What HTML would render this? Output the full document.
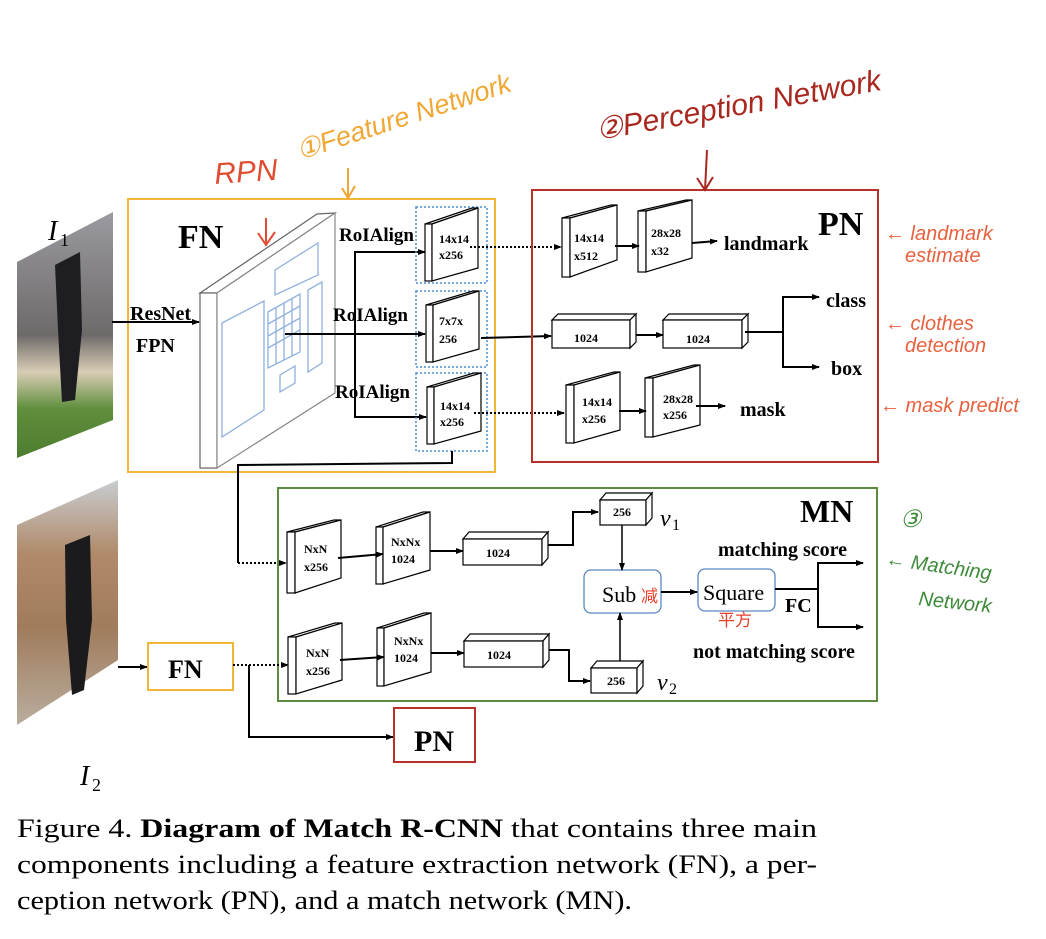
<!DOCTYPE html>
<html><head><meta charset="utf-8"><style>
body{margin:0;background:#fff;}
svg{display:block;}
.b{font-family:"Liberation Serif",serif;font-weight:bold;fill:#000;}
.h{font-family:"Liberation Sans",sans-serif;font-style:italic;}
</style></head><body>
<svg width="1046" height="939" viewBox="0 0 1046 939" xmlns="http://www.w3.org/2000/svg">
<defs>
<marker id="a" markerWidth="8" markerHeight="8" refX="7" refY="4" orient="auto" markerUnits="userSpaceOnUse"><path d="M0,1 L8,4 L0,7z" fill="#000"/></marker>
<linearGradient id="p1" x1="0" y1="0" x2="0" y2="1"><stop offset="0" stop-color="#9a9aa0"/><stop offset="0.5" stop-color="#6e6a6a"/><stop offset="0.65" stop-color="#d8cdb4"/><stop offset="0.8" stop-color="#5f8f3c"/><stop offset="1" stop-color="#4d7d2f"/></linearGradient>
<linearGradient id="p2" x1="0" y1="0" x2="0" y2="1"><stop offset="0" stop-color="#c8cdd0"/><stop offset="0.3" stop-color="#b08a6a"/><stop offset="0.6" stop-color="#a07b5c"/><stop offset="1" stop-color="#b9ad9d"/></linearGradient>
</defs>

<polygon points="17,262 113,212 113,420 17,458" fill="url(#p1)"/>
<path d="M55,265 L80,252 L82,330 L75,400 L62,402 L58,330z" fill="#1d1d22"/>
<polygon points="17,525 118,480 118,660 17,725" fill="url(#p2)"/>
<path d="M65,545 L90,535 L92,620 L84,690 L72,695 L66,620z" fill="#1b1b1e"/>
<text x="48" y="240" font-family="Liberation Serif,serif" font-style="italic" font-size="28">I</text><text x="60" y="246" font-family="Liberation Serif,serif" font-size="18">1</text>
<text x="80" y="785" font-family="Liberation Serif,serif" font-style="italic" font-size="28">I</text><text x="92" y="791" font-family="Liberation Serif,serif" font-size="18">2</text>

<rect x="128" y="199" width="367" height="273" fill="none" stroke="#f2b636" stroke-width="2"/>
<text x="178" y="248" class="b" font-size="34">FN</text>
<line x1="112" y1="322" x2="199" y2="322" stroke="#000" stroke-width="2" marker-end="url(#a)"/>
<text x="130" y="320" class="b" font-size="20">ResNet</text>
<text x="136" y="352" class="b" font-size="20">FPN</text>
<polygon points="200,293 317,214 335,213 217,293" fill="#fff" stroke="#666" stroke-width="1.2"/>
<rect x="200" y="293" width="17" height="175" fill="#fff" stroke="#666" stroke-width="1.2"/>
<polygon points="217,293 335,213 335,393 217,468" fill="#fff" stroke="#888" stroke-width="1.2"/>
<g fill="none" stroke="#8fb1dd" stroke-width="1.3">
<polygon points="222,323 264,301 264,410 222,437"/>
<polygon points="275,270 318,243 318,275 275,295"/>
<polygon points="308,290 322,282 322,363 308,372"/>
<polygon points="280,375 295,366 295,383 280,392"/>
<polygon points="268,312 300,294 300,352 268,368"/>
<path d="M276,307 V364 M284,303 V360 M292,298 V356 M268,324 L300,306 M268,336 L300,318 M268,348 L300,330"/>
</g>
<text x="339" y="241" class="b" font-size="19">RoIAlign</text>
<text x="333" y="321" class="b" font-size="19">RoIAlign</text>
<text x="335" y="398" class="b" font-size="19">RoIAlign</text>
<polyline points="424,252 355,252 355,417 424,417" fill="none" stroke="#000" stroke-width="2"/>
<line x1="415" y1="252" x2="425" y2="252" stroke="#000" stroke-width="2" marker-end="url(#a)"/>
<line x1="415" y1="417" x2="426" y2="417" stroke="#000" stroke-width="2" marker-end="url(#a)"/>
<line x1="285" y1="334" x2="425" y2="334" stroke="#000" stroke-width="2" marker-end="url(#a)"/>
<g fill="none" stroke="#4a8ed6" stroke-width="1.5" stroke-dasharray="2,2">
<rect x="416" y="207" width="71" height="76"/><rect x="416" y="291" width="71" height="76"/><rect x="416" y="373" width="71" height="78"/>
</g>
<g stroke="#000" stroke-width="1.2" fill="#fff">
<polygon points="425,224 472,208 478,208 432,224"/><rect x="425" y="224" width="7" height="57"/><polygon points="432,224 478,208 478,268 432,281"/>
<polygon points="426,305 473,291 479,291 433,305"/><rect x="426" y="305" width="7" height="57"/><polygon points="433,305 479,291 479,349 433,362"/>
<polygon points="427,387 474,373 481,373 434,387"/><rect x="427" y="387" width="7" height="57"/><polygon points="434,387 481,373 481,431 434,444"/>
</g>
<g class="b" font-size="12"><text x="439" y="243">14x14</text><text x="439" y="259">x256</text>
<text x="439" y="325">7x7x</text><text x="439" y="343">256</text>
<text x="440" y="410">14x14</text><text x="440" y="426">x256</text></g>
<line x1="470" y1="247" x2="561" y2="247" stroke="#000" stroke-width="2" stroke-dasharray="2,2" marker-end="url(#a)"/>
<line x1="481" y1="338" x2="551" y2="336" stroke="#000" stroke-width="2" marker-end="url(#a)"/>
<line x1="474" y1="413" x2="564" y2="413" stroke="#000" stroke-width="2" stroke-dasharray="2,2" marker-end="url(#a)"/>
<polyline points="452,451 452,463 238,465 238,563" fill="none" stroke="#000" stroke-width="2"/>
<line x1="238" y1="563" x2="286" y2="563" stroke="#000" stroke-width="2" stroke-dasharray="2,2" marker-end="url(#a)"/>

<rect x="532" y="190" width="346" height="272" fill="none" stroke="#b8312a" stroke-width="2"/>
<text x="818" y="235" class="b" font-size="34">PN</text>
<g stroke="#000" stroke-width="1.2" fill="#fff">
<polygon points="562,218 611,205 617,205 570,218"/><rect x="562" y="218" width="8" height="59"/><polygon points="570,218 617,205 617,260 570,277"/>
<polygon points="638,211 686,200 692,200 646,211"/><rect x="638" y="211" width="8" height="61"/><polygon points="646,211 692,200 692,258 646,272"/>
<polygon points="566,385 614,372 620,372 574,385"/><rect x="566" y="385" width="8" height="58"/><polygon points="574,385 620,372 620,430 574,443"/>
<polygon points="645,378 694,365 700,365 653,378"/><rect x="645" y="378" width="8" height="59"/><polygon points="653,378 700,365 700,425 653,437"/>
<polygon points="552,320 558,314 636,314 630,320"/><rect x="552" y="320" width="78" height="28"/><polygon points="630,320 636,314 636,342 630,348"/>
<polygon points="663,320 669,314 748,314 742,320"/><rect x="663" y="320" width="79" height="28"/><polygon points="742,320 748,314 748,342 742,348"/>
</g>
<g class="b" font-size="12"><text x="574" y="242">14x14</text><text x="574" y="260">x512</text>
<text x="651" y="237">28x28</text><text x="651" y="255">x32</text>
<text x="582" y="406">14x14</text><text x="582" y="423">x256</text>
<text x="663" y="403">28x28</text><text x="663" y="419">x256</text>
<text x="574" y="342">1024</text><text x="686" y="343">1024</text></g>
<line x1="615" y1="246" x2="639" y2="246" stroke="#000" stroke-width="2" marker-end="url(#a)"/>
<line x1="692" y1="243" x2="717" y2="241" stroke="#000" stroke-width="2" marker-end="url(#a)"/>
<line x1="636" y1="335" x2="663" y2="335" stroke="#000" stroke-width="2" marker-end="url(#a)"/>
<line x1="619" y1="411" x2="646" y2="411" stroke="#000" stroke-width="2" marker-end="url(#a)"/>
<line x1="696" y1="406" x2="725" y2="406" stroke="#000" stroke-width="2" marker-end="url(#a)"/>
<polyline points="745,332 783,332" fill="none" stroke="#000" stroke-width="2"/>
<polyline points="818,297 783,297 783,367 818,367" fill="none" stroke="#000" stroke-width="2"/>
<line x1="810" y1="297" x2="819" y2="297" stroke="#000" stroke-width="2" marker-end="url(#a)"/>
<line x1="810" y1="367" x2="819" y2="367" stroke="#000" stroke-width="2" marker-end="url(#a)"/>
<text x="724" y="250" class="b" font-size="20">landmark</text>
<text x="826" y="307" class="b" font-size="20">class</text>
<text x="831" y="375" class="b" font-size="20">box</text>
<text x="740" y="416" class="b" font-size="20">mask</text>

<rect x="278" y="488" width="599" height="213" fill="none" stroke="#5c8a3e" stroke-width="2"/>
<text x="800" y="522" class="b" font-size="32">MN</text>
<g stroke="#000" stroke-width="1.2" fill="#fff">
<polygon points="287,532 334,520 341,520 295,532"/><rect x="287" y="532" width="8" height="61"/><polygon points="295,532 341,520 341,578 295,593"/>
<polygon points="376,527 423,512 430,512 383,527"/><rect x="376" y="527" width="7" height="57"/><polygon points="383,527 430,512 430,570 383,584"/>
<polygon points="288,637 335,623 342,623 296,637"/><rect x="288" y="637" width="8" height="57"/><polygon points="296,637 342,623 342,680 296,694"/>
<polygon points="377,628 424,613 431,613 384,628"/><rect x="377" y="628" width="7" height="58"/><polygon points="384,628 431,613 431,672 384,686"/>
<polygon points="463,539 469,532 548,532 542,539"/><rect x="463" y="539" width="79" height="26"/><polygon points="542,539 548,532 548,558 542,565"/>
<polygon points="464,641 470,634 549,634 543,641"/><rect x="464" y="641" width="79" height="26"/><polygon points="543,641 549,634 549,660 543,667"/>
<polygon points="600,500 606,493 652,493 646,500"/><rect x="600" y="500" width="46" height="25"/><polygon points="646,500 652,493 652,518 646,525"/>
<polygon points="591,668 597,661 643,661 637,668"/><rect x="591" y="668" width="46" height="25"/><polygon points="637,668 643,661 643,686 637,693"/>
</g>
<g class="b" font-size="12"><text x="304" y="553">NxN</text><text x="304" y="571">x256</text>
<text x="391" y="546">NxNx</text><text x="391" y="563">1024</text>
<text x="306" y="657">NxN</text><text x="306" y="675">x256</text>
<text x="394" y="645">NxNx</text><text x="394" y="662">1024</text>
<text x="486" y="557">1024</text><text x="487" y="659">1024</text>
<text x="613" y="516">256</text><text x="607" y="685">256</text></g>
<text x="660" y="526" font-family="Liberation Serif,serif" font-style="italic" font-size="24">v</text><text x="672" y="530" font-family="Liberation Serif,serif" font-size="16">1</text>
<text x="657" y="690" font-family="Liberation Serif,serif" font-style="italic" font-size="24">v</text><text x="669" y="694" font-family="Liberation Serif,serif" font-size="16">2</text>
<line x1="338" y1="558" x2="383" y2="554" stroke="#000" stroke-width="2" marker-end="url(#a)"/>
<line x1="430" y1="551" x2="463" y2="551" stroke="#000" stroke-width="2" marker-end="url(#a)"/>
<line x1="340" y1="660" x2="384" y2="657" stroke="#000" stroke-width="2" marker-end="url(#a)"/>
<line x1="431" y1="653" x2="464" y2="653" stroke="#000" stroke-width="2" marker-end="url(#a)"/>
<polyline points="548,545 573,545 573,512 598,512" fill="none" stroke="#000" stroke-width="2" marker-end="url(#a)"/>
<polyline points="549,650 569,650 569,681 590,681" fill="none" stroke="#000" stroke-width="2" marker-end="url(#a)"/>
<rect x="584" y="570" width="77" height="43" rx="7" fill="#fff" stroke="#5a87c2" stroke-width="1.3"/>
<rect x="698" y="569" width="77" height="42" rx="7" fill="#fff" stroke="#5a87c2" stroke-width="1.3"/>
<line x1="622" y1="525" x2="622" y2="570" stroke="#000" stroke-width="1.5" marker-end="url(#a)"/>
<line x1="620" y1="661" x2="620" y2="613" stroke="#000" stroke-width="1.5" marker-end="url(#a)"/>
<line x1="661" y1="592" x2="697" y2="592" stroke="#000" stroke-width="2" marker-end="url(#a)"/>
<text x="602" y="602" font-family="Liberation Serif,serif" font-size="22">Sub</text>
<text x="703" y="600" font-family="Liberation Serif,serif" font-size="22">Square</text>
<text x="641" y="602" font-family="'Noto Sans CJK SC',sans-serif" font-size="17" fill="#e8412b">减</text>
<text x="718" y="626" font-family="'Noto Sans CJK SC',sans-serif" font-size="17" fill="#e8412b">平方</text>
<line x1="775" y1="589" x2="818" y2="589" stroke="#000" stroke-width="2"/>
<polyline points="862,563 818,563 818,627 862,627" fill="none" stroke="#000" stroke-width="2"/>
<line x1="852" y1="563" x2="863" y2="563" stroke="#000" stroke-width="2" marker-end="url(#a)"/>
<line x1="852" y1="627" x2="863" y2="627" stroke="#000" stroke-width="2" marker-end="url(#a)"/>
<text x="785" y="612" class="b" font-size="20">FC</text>
<text x="718" y="556" class="b" font-size="20">matching score</text>
<text x="693" y="658" class="b" font-size="20">not matching score</text>

<line x1="118" y1="667" x2="147" y2="667" stroke="#000" stroke-width="2" marker-end="url(#a)"/>
<rect x="148" y="643" width="85" height="47" fill="none" stroke="#f2b636" stroke-width="2"/>
<text x="168" y="678" class="b" font-size="26">FN</text>
<line x1="233" y1="665" x2="288" y2="665" stroke="#000" stroke-width="2" stroke-dasharray="2,2" marker-end="url(#a)"/>
<polyline points="249,665 249,737 393,737" fill="none" stroke="#000" stroke-width="2" marker-end="url(#a)"/>
<rect x="394" y="708" width="81" height="54" fill="none" stroke="#b8312a" stroke-width="2"/>
<text x="414" y="751" class="b" font-size="30">PN</text>

<text x="215" y="184" class="h" font-size="30" fill="#e04c32" transform="rotate(-4 215 184)">RPN</text>
<text x="300" y="160" class="h" font-size="27" fill="#f0a733" transform="rotate(-18 300 160)">①Feature Network</text>
<text x="598" y="140" class="h" font-size="30" fill="#a8281f" transform="rotate(-10 598 140)">②Perception Network</text>
<g stroke-width="2" fill="none">
<path d="M348,168 V198 M342,188 L348,198 L355,186" stroke="#f0a733"/>
<path d="M707,150 L705,190 M697,178 L705,190 L713,177" stroke="#a8281f"/>
<path d="M266,218 V245 M258,233 L266,245 L275,232" stroke="#e04c32"/>
</g>
<g class="h" font-size="20" fill="#e8613e">
<text x="885" y="240">← landmark</text><text x="905" y="262">estimate</text>
<text x="885" y="330">← clothes</text><text x="905" y="352">detection</text>
<text x="880" y="412">← mask predict</text>
</g>
<g class="h" font-size="20" fill="#3f8a3a">
<text x="900" y="527" font-size="24">③</text>
<text x="885" y="565" transform="rotate(8 885 565)">← Matching</text>
<text x="918" y="605" transform="rotate(6 918 605)">Network</text>
</g>

<g font-family="Liberation Serif,serif" font-size="26" fill="#000">
<text x="17" y="837" textLength="800" lengthAdjust="spacingAndGlyphs">Figure 4. <tspan font-weight="bold">Diagram of Match R-CNN</tspan> that contains three main</text>
<text x="17" y="873" textLength="800" lengthAdjust="spacingAndGlyphs">components including a feature extraction network (FN), a per-</text>
<text x="17" y="909" textLength="615" lengthAdjust="spacingAndGlyphs">ception network (PN), and a match network (MN).</text>
</g>
</svg>
</body></html>
